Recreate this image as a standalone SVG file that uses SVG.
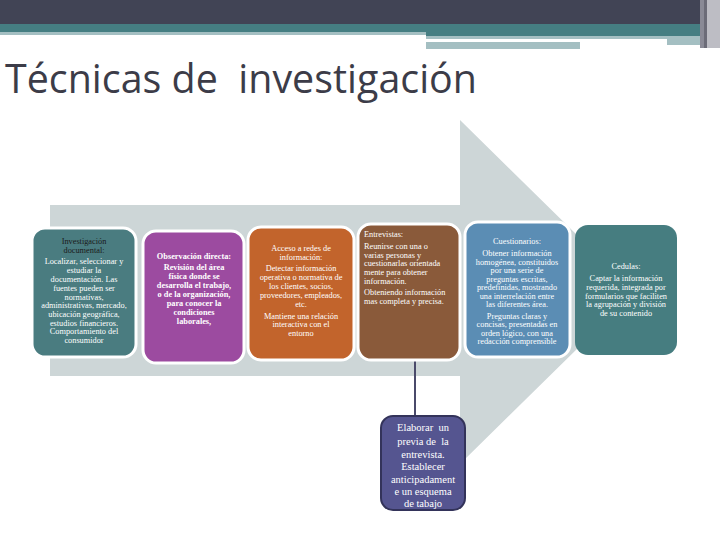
<svg xmlns="http://www.w3.org/2000/svg" width="720" height="540" viewBox="0 0 720 540">
<style>
.t{font-family:"Liberation Serif","Times New Roman",serif;font-size:8.3px;fill:#fff;text-anchor:middle}
.l{text-anchor:start}
.b{font-weight:bold}
.d{fill:#1a1a1a}
.box{stroke:#fff;stroke-width:3}
.t7{font-family:"Liberation Serif","Times New Roman",serif;font-size:10.5px;fill:#fff;text-anchor:middle;white-space:pre}
</style>
<rect width="720" height="540" fill="#fff"/>
<g id="header">
<rect x="0" y="0" width="720" height="24" fill="#414455"/>
<rect x="0" y="24" width="705" height="8" fill="#457E82"/>
<rect x="426" y="32" width="279" height="4" fill="#457E82"/>
<rect x="0" y="32" width="426" height="3" fill="#A4BFC2"/>
<rect x="426" y="36" width="280" height="3" fill="#A4BFC2"/>
<rect x="426" y="42" width="154" height="7" fill="#A4BFC2"/>
<rect x="667" y="36" width="40" height="9" fill="#A4BFC2"/>
<rect x="700" y="0" width="4" height="48" fill="#8a8a96"/>
<rect x="704" y="0" width="3" height="48" fill="#6c6c78"/>
<rect x="707" y="0" width="13" height="48" fill="#bdbdc4"/>
</g>
<text x="5" y="93" xml:space="preserve" style="white-space:pre" font-family="'Open Sans','Liberation Sans',sans-serif" font-size="41" fill="#3c3c48" textLength="472" lengthAdjust="spacingAndGlyphs">Técnicas de  investigación</text>
<g id="arrow">
<polygon points="50,205 460,205 460,120 635,292 460,464 460,376 50,376" fill="#CDD6D7"/>
</g>
<g id="connectors">
<line x1="415" y1="360" x2="415" y2="416" stroke="#4a4a6a" stroke-width="2"/>
</g>
<g id="n1">
<rect class="box" x="32" y="228" width="104" height="129" rx="13" fill="#4A7C80"/>
<text class="t d"><tspan x="84" y="244">Investigación</tspan><tspan x="84" y="253">documental:</tspan></text>
<text class="t"><tspan x="84" y="264">Localizar, seleccionar y</tspan><tspan x="84" y="273">estudiar la</tspan><tspan x="84" y="282">documentación. Las</tspan><tspan x="84" y="291">fuentes pueden ser</tspan><tspan x="84" y="300">normativas,</tspan><tspan x="84" y="308">administrativas, mercado,</tspan><tspan x="84" y="317">ubicación geográfica,</tspan><tspan x="84" y="326">estudios financieros.</tspan><tspan x="84" y="334">Comportamiento del</tspan><tspan x="84" y="343">consumidor</tspan></text>
</g>
<g id="n2">
<rect class="box" x="143" y="231" width="101" height="132" rx="13" fill="#9C4BA0"/>
<text class="t b"><tspan x="194" y="259">Observación directa:</tspan><tspan x="194" y="270">Revisión del área</tspan><tspan x="194" y="279">física donde se</tspan><tspan x="194" y="288">desarrolla el trabajo,</tspan><tspan x="194" y="297">o de la organización,</tspan><tspan x="194" y="306">para conocer la</tspan><tspan x="194" y="315">condiciones</tspan><tspan x="194" y="324">laborales,</tspan></text>
</g>
<g id="n3">
<rect class="box" x="248" y="227" width="106" height="133" rx="13" fill="#C2642C"/>
<text class="t"><tspan x="301" y="251">Acceso a redes de</tspan><tspan x="301" y="260">información:</tspan><tspan x="301" y="271">Detectar información</tspan><tspan x="301" y="280">operativa o normativa de</tspan><tspan x="301" y="289">los clientes, socios,</tspan><tspan x="301" y="298">proveedores, empleados,</tspan><tspan x="301" y="307">etc.</tspan><tspan x="301" y="319">Mantiene una relación</tspan><tspan x="301" y="327">interactiva con el</tspan><tspan x="301" y="336">entorno</tspan></text>
</g>
<g id="n4">
<rect class="box" x="358" y="224" width="102" height="136" rx="13" fill="#8A5A3A"/>
<text class="t l"><tspan x="364" y="237">Entrevistas:</tspan><tspan x="364" y="249">Reunirse con una o</tspan><tspan x="364" y="258">varias personas y</tspan><tspan x="364" y="266">cuestionarlas orientada</tspan><tspan x="364" y="275">mente para obtener</tspan><tspan x="364" y="284">información.</tspan><tspan x="364" y="295">Obteniendo información</tspan><tspan x="364" y="304">mas completa y precisa.</tspan></text>
</g>
<g id="n5">
<rect class="box" x="465" y="222" width="105" height="135" rx="13" fill="#5B8DB4"/>
<text class="t"><tspan x="517" y="244">Cuestionarios:</tspan><tspan x="517" y="256">Obtener información</tspan><tspan x="517" y="265">homogénea, constituidos</tspan><tspan x="517" y="273">por una serie de</tspan><tspan x="517" y="282">preguntas escritas,</tspan><tspan x="517" y="290">predefinidas, mostrando</tspan><tspan x="517" y="299">una interrelación entre</tspan><tspan x="517" y="307">las diferentes área.</tspan><tspan x="517" y="319">Preguntas claras y</tspan><tspan x="517" y="327">concisas, presentadas en</tspan><tspan x="517" y="336">orden lógico, con una</tspan><tspan x="517" y="344">redacción comprensible</tspan></text>
</g>
<g id="n6">
<rect x="575" y="225" width="102" height="130" rx="13" fill="#467D80"/>
<text class="t"><tspan x="626" y="269">Cedulas:</tspan><tspan x="626" y="281">Captar la información</tspan><tspan x="626" y="290">requerida, integrada por</tspan><tspan x="626" y="299">formularios que faciliten</tspan><tspan x="626" y="307">la agrupación y división</tspan><tspan x="626" y="316">de su contenido</tspan></text>
</g>
<g id="n7">
<rect x="381" y="416" width="84" height="94" rx="12" fill="#555590" stroke="#33335a" stroke-width="2"/>
<text class="t7"><tspan x="423" y="431">Elaborar  un</tspan><tspan x="423" y="445">previa de  la</tspan><tspan x="423" y="458">entrevista.</tspan><tspan x="423" y="470">Establecer</tspan><tspan x="423" y="483">anticipadament</tspan><tspan x="423" y="495">e un esquema</tspan><tspan x="423" y="507">de tabajo</tspan></text>
</g>
</svg>
